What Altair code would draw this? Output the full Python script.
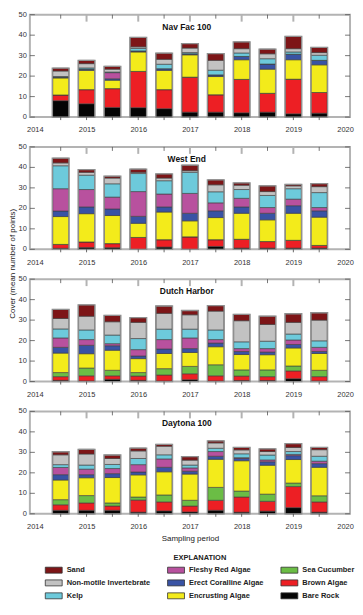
import altair as alt
import pandas as pd

YEARS = [2014.5, 2015.0, 2015.5, 2016.0, 2016.5, 2017.0, 2017.5, 2018.0, 2018.5, 2019.0, 2019.5]
STACK_ORDER = ["Bare Rock", "Brown Algae", "Sea Cucumber", "Encrusting Algae",
               "Erect Coralline Algae", "Fleshy Red Algae", "Kelp",
               "Non-motile Invertebrate", "Sand"]
LEGEND_ORDER = ["Sand", "Non-motile Invertebrate", "Kelp",
                "Fleshy Red Algae", "Erect Coralline Algae", "Encrusting Algae",
                "Sea Cucumber", "Brown Algae", "Bare Rock"]
COLORS = {
    "Sand": "#7d1517", "Fleshy Red Algae": "#b8519e", "Sea Cucumber": "#6bbd45",
    "Non-motile Invertebrate": "#c2c2c2", "Erect Coralline Algae": "#3953a4",
    "Brown Algae": "#ed1f24", "Kelp": "#6dcadb", "Encrusting Algae": "#f3eb1b",
    "Bare Rock": "#050505",
}
SITES = ["Nav Fac 100", "West End", "Dutch Harbor", "Daytona 100"]
Y_TICKS = [0, 10, 20, 30, 40, 50]
X_HALF_TICKS = [2014.5, 2015, 2015.5, 2016, 2016.5, 2017, 2017.5, 2018, 2018.5, 2019, 2019.5]
TOP_MINOR = [2014.5, 2015.5, 2016.5, 2017.5, 2018.5, 2019.5]
TOP_MAJOR = [2015, 2016, 2017, 2018, 2019]

NAV_FAC = {
    "Bare Rock":               [8.0, 6.5, 4.7, 4.6, 4.1, 2.4, 2.4, 2.1, 2.4, 1.6, 1.9],
    "Brown Algae":             [2.8, 6.9, 9.2, 17.7, 9.3, 17.1, 8.5, 16.3, 9.2, 16.9, 10.1],
    "Sea Cucumber":            [0, 0, 0, 0, 0, 0, 0, 0, 0, 0, 0],
    "Encrusting Algae":        [8.3, 9.4, 4.1, 9.5, 9.4, 10.9, 8.9, 9.6, 11.8, 9.5, 13.5],
    "Erect Coralline Algae":   [0.4, 0.6, 0.7, 0.5, 0.8, 0.5, 0.8, 1.6, 2.5, 2.7, 2.2],
    "Fleshy Red Algae":        [0, 0, 3.0, 0, 0, 0, 0, 0, 0, 0, 0],
    "Kelp":                    [0.3, 0.6, 0.3, 1.2, 2.2, 0.6, 2.3, 1.7, 2.6, 1.1, 2.5],
    "Non-motile Invertebrate": [2.7, 2.1, 1.4, 0.8, 2.4, 2.2, 4.8, 2.1, 2.4, 1.6, 1.3],
    "Sand":                    [1.4, 1.6, 1.4, 4.6, 3.0, 2.2, 3.3, 3.3, 2.3, 6.0, 2.5],
}
WEST_END = {
    "Bare Rock":               [0.5, 0.9, 0.8, 0, 1.1, 0, 1.4, 0.6, 0.6, 0.6, 0.6],
    "Brown Algae":             [1.9, 2.7, 2.0, 5.8, 3.6, 6.1, 3.3, 4.3, 3.2, 3.8, 1.3],
    "Sea Cucumber":            [0, 0, 0, 0, 0, 0, 0, 0, 0, 0, 0],
    "Encrusting Algae":        [13.6, 13.8, 13.7, 6.9, 13.5, 7.8, 10.8, 12.7, 10.6, 13.2, 13.8],
    "Erect Coralline Algae":   [2.7, 3.3, 3.2, 3.4, 2.5, 3.7, 3.3, 3.1, 3.2, 3.7, 3.1],
    "Fleshy Red Algae":        [10.9, 8.5, 5.8, 12.1, 6.3, 9.7, 3.9, 4.2, 2.8, 3.2, 1.6],
    "Kelp":                    [11.2, 7.0, 6.5, 8.8, 6.5, 10.3, 5.4, 4.3, 5.9, 5.1, 7.3],
    "Non-motile Invertebrate": [1.4, 1.4, 2.8, 0.6, 1.3, 0.8, 3.4, 2.1, 1.9, 1.4, 2.9],
    "Sand":                    [2.3, 1.3, 0.9, 1.6, 2.0, 2.7, 2.4, 1.1, 2.8, 0.7, 1.5],
}
DUTCH_HARBOR = {
    "Bare Rock":               [0.6, 0.3, 1.1, 0.6, 0.3, 0.9, 0.3, 0.5, 0.5, 1.4, 0.3],
    "Brown Algae":             [1.8, 2.5, 1.7, 2.1, 2.9, 2.9, 2.5, 2.2, 1.9, 3.8, 2.1],
    "Sea Cucumber":            [2.0, 3.8, 2.7, 1.7, 3.1, 3.6, 5.4, 3.0, 3.3, 2.4, 3.1],
    "Encrusting Algae":        [9.5, 7.0, 9.8, 6.8, 7.4, 6.8, 8.8, 7.5, 7.4, 8.8, 8.2],
    "Erect Coralline Algae":   [2.8, 4.1, 2.2, 1.3, 2.2, 1.9, 1.8, 1.5, 1.3, 1.7, 1.0],
    "Fleshy Red Algae":        [4.6, 2.8, 1.0, 3.1, 4.6, 5.2, 1.7, 1.4, 1.7, 2.2, 2.0],
    "Kelp":                    [4.4, 4.7, 4.2, 5.4, 5.1, 4.3, 4.7, 3.3, 3.6, 2.9, 3.2],
    "Non-motile Invertebrate": [5.1, 6.7, 6.5, 7.9, 7.7, 7.0, 9.2, 10.3, 8.2, 5.7, 10.1],
    "Sand":                    [4.4, 5.5, 3.1, 2.3, 3.6, 2.1, 2.7, 3.1, 4.0, 4.2, 3.6],
}
DAYTONA = {
    "Bare Rock":               [1.7, 1.7, 1.7, 0.8, 1.4, 0.9, 1.7, 0.8, 1.3, 3.0, 0.8],
    "Brown Algae":             [2.7, 3.6, 2.1, 5.9, 4.4, 2.9, 4.9, 7.4, 4.8, 10.3, 5.0],
    "Sea Cucumber":            [2.5, 3.6, 1.5, 1.5, 3.4, 2.8, 6.3, 2.9, 3.5, 1.7, 3.0],
    "Encrusting Algae":        [9.6, 8.7, 12.4, 10.8, 11.3, 12.8, 13.7, 14.8, 14.1, 11.5, 13.9],
    "Erect Coralline Algae":   [2.6, 1.5, 1.9, 1.4, 2.2, 1.4, 1.5, 1.1, 1.7, 1.9, 1.8],
    "Fleshy Red Algae":        [3.5, 2.7, 2.5, 3.6, 4.1, 1.6, 2.3, 0.4, 0.9, 0.6, 1.2],
    "Kelp":                    [1.4, 2.0, 2.0, 3.0, 2.0, 1.4, 1.6, 1.9, 2.4, 1.4, 2.4],
    "Non-motile Invertebrate": [4.8, 5.4, 2.9, 3.7, 4.2, 2.4, 2.6, 1.9, 1.7, 2.0, 3.2],
    "Sand":                    [1.5, 2.3, 1.7, 1.4, 0.9, 1.7, 1.0, 1.2, 1.3, 1.9, 1.1],
}
SITE_DATA = [NAV_FAC, WEST_END, DUTCH_HARBOR, DAYTONA]

W, H = 322, 103
FONT = "Liberation Sans"

xscale = alt.Scale(domain=[2014, 2020], nice=False, zero=False)
yscale = alt.Scale(domain=[0, 50], nice=False)
cscale = alt.Scale(domain=LEGEND_ORDER, range=[COLORS[c] for c in LEGEND_ORDER])

ytick_df = pd.DataFrame({"v": Y_TICKS})
minor_df = pd.DataFrame({"x": TOP_MINOR})
major_df = pd.DataFrame({"x": TOP_MAJOR})
half_df = pd.DataFrame({"x": X_HALF_TICKS})


def panel(idx):
    site = SITES[idx]
    data = SITE_DATA[idx]
    rows = []
    for si, cat in enumerate(STACK_ORDER):
        for x, v in zip(YEARS, data[cat]):
            rows.append({"x": x, "category": cat, "value": v, "stack": si})
    df = pd.DataFrame(rows)

    last = idx == len(SITES) - 1
    xaxis = alt.Axis(labelExpr="format(datum.value, 'd')", tickCount=6,
                     ticks=False, domain=False, grid=False,
                     labelFontSize=7.5, labelColor="#333", labelPadding=9, labelFont=FONT,
                     title="Sampling period" if last else None,
                     titleFontSize=8, titleFontWeight="normal", titleColor="#222",
                     titlePadding=4, titleFont=FONT)
    if idx == 1:
        yaxis = alt.Axis(labels=False, ticks=False, domain=False, grid=False,
                         title="Cover (mean number of points)", titleFontSize=8,
                         titleFontWeight="normal", titleColor="#222", titlePadding=13,
                         titleY=117, titleFont=FONT)
    else:
        yaxis = alt.Axis(labels=False, ticks=False, domain=False, grid=False, title=None)

    legend = alt.Legend(
        title="EXPLANATION", orient="none", legendX=16, legendY=542,
        columns=3, columnPadding=14, rowPadding=0,
        symbolType="M-1.133,-0.4L1.133,-0.4L1.133,0.4L-1.133,0.4Z", symbolSize=225,
        symbolStrokeColor="#333", symbolStrokeWidth=0.8, symbolOffset=0,
        labelFontSize=7.5, labelFontWeight="bold", labelColor="#222", labelOffset=5,
        labelFont=FONT, titleFont=FONT, labelLimit=200,
        titleFontSize=7.5, titleFontWeight="bold", titleColor="#222",
        titleAnchor="middle", titlePadding=1)

    bars = alt.Chart(df).mark_bar(width=16, stroke="#3c3c3c", strokeWidth=0.6).encode(
        x=alt.X("x:Q", scale=xscale, axis=xaxis),
        y=alt.Y("value:Q", stack="zero", scale=yscale, axis=yaxis),
        color=alt.Color("category:N", scale=cscale, legend=legend),
        order=alt.Order("stack:Q", sort="ascending"),
    )
    outline = alt.Chart(df).transform_aggregate(
        total="sum(value)", groupby=["x"]
    ).mark_bar(width=17, fillOpacity=0, stroke="#8f8f8f", strokeWidth=1.3).encode(
        x=alt.X("x:Q", scale=xscale, axis=xaxis),
        y=alt.Y("total:Q", scale=yscale, axis=yaxis),
    )
    ylab = alt.Chart(ytick_df).mark_text(
        font=FONT, fontSize=7.5, color="#333", align="right", baseline="middle"
    ).encode(y=alt.Y("v:Q", scale=yscale, axis=yaxis), x=alt.value(-3), text=alt.Text("v:Q"))
    lt = alt.Chart(ytick_df).mark_rule(color="#555", strokeWidth=0.8).encode(
        y=alt.Y("v:Q", scale=yscale, axis=yaxis), x=alt.value(0), x2=alt.value(5))
    rt = alt.Chart(ytick_df).mark_rule(color="#555", strokeWidth=0.8).encode(
        y=alt.Y("v:Q", scale=yscale, axis=yaxis), x=alt.value(W - 5), x2=alt.value(W))
    tmin = alt.Chart(minor_df).mark_rule(color="#555", strokeWidth=0.8).encode(
        x=alt.X("x:Q", scale=xscale, axis=xaxis), y=alt.value(0), y2=alt.value(4))
    tmaj = alt.Chart(major_df).mark_rule(color="#b3b3b3", strokeWidth=2).encode(
        x=alt.X("x:Q", scale=xscale, axis=xaxis), y=alt.value(0), y2=alt.value(7))
    bot = alt.Chart(half_df).mark_rule(color="#444", strokeWidth=0.8).encode(
        x=alt.X("x:Q", scale=xscale, axis=xaxis), y=alt.value(H), y2=alt.value(H + 3))
    title = alt.Chart(pd.DataFrame({"t": [site]})).mark_text(
        font=FONT, fontSize=8.5, fontWeight="bold", color="#111", baseline="middle", align="center"
    ).encode(text="t:N", x=alt.value(W * 0.49), y=alt.value(12))

    return alt.layer(bars, outline, ylab, lt, rt, tmin, tmaj, bot, title).properties(
        width=W, height=H)


chart = alt.vconcat(*[panel(i) for i in range(4)], spacing=30, bounds="flush").configure_view(
    stroke="#b3b3b3", strokeWidth=2
).properties(padding={"left": 0, "top": 0, "right": 0, "bottom": 0})

chart.save("out.html", embed_options={"renderer": "svg", "actions": False})
